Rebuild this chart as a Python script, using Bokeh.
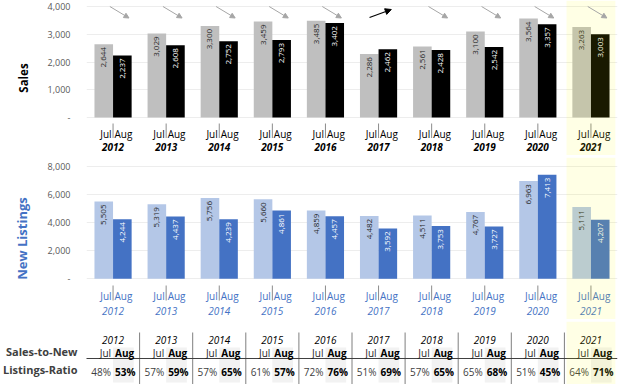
import numpy as np
from bokeh.plotting import figure
from bokeh.models import Range1d, FixedTicker, NumeralTickFormatter, Arrow, NormalHead, ColumnDataSource
from bokeh.layouts import column
from bokeh.core.properties import value
from bokeh.core.validation import silence
from bokeh.core.validation.warnings import MISSING_RENDERERS
from bokeh.embed import file_html
from bokeh.resources import INLINE

silence(MISSING_RENDERERS, True)

# ---------------- data ----------------
years = ["2012", "2013", "2014", "2015", "2016", "2017", "2018", "2019", "2020", "2021"]
months = ["Jul", "Aug"]
sales_jul = [2644, 3029, 3300, 3459, 3485, 2286, 2561, 3100, 3564, 3263]
sales_aug = [2237, 2608, 2752, 2793, 3402, 2462, 2428, 2542, 3357, 3003]
listings_jul = [5505, 5319, 5756, 5660, 4859, 4482, 4511, 4767, 6963, 5111]
listings_aug = [4244, 4437, 4239, 4861, 4457, 3592, 3753, 3727, 7413, 4207]
ratio_jul = [48, 57, 57, 61, 72, 51, 57, 65, 51, 64]
ratio_aug = [53, 59, 65, 57, 76, 69, 65, 68, 45, 71]
ratio_title = ["Sales-to-New", "Listings-Ratio"]
highlight_year = "2021"

# ---------------- layout constants ----------------
FONT = value("Open Sans")
W = 620
FL, FR = 77, 3
n = len(years)
PPX = (W - FL - FR) / n
xc = np.arange(n) + 0.5
BW = 0.35
HL = years.index(highlight_year)
HL_W = 0.92
YEL, YEL_A = "#FFFF00", 0.1
BLUE = "#4472C4"


def base_fig(h, y_range):
    p = figure(width=W, height=h, x_range=Range1d(0, n), y_range=y_range,
               x_axis_location=None, toolbar_location=None, output_backend="svg",
               min_border_left=FL, min_border_right=FR, min_border_top=0, min_border_bottom=0,
               outline_line_color=None, background_fill_color="white", border_fill_color="white")
    p.xgrid.visible = False
    return p


def bar_chart(h, top_px, zero_px, vmax, step, jul, aug, c_jul, c_aug, lc_jul, lc_aug,
              title, title_col, title_size, month_px, bar_px, year_px, month_col, year_col, year_style):
    ppu = (zero_px - top_px) / vmax
    y0 = -(h - zero_px) / ppu
    y1 = vmax + top_px / ppu

    def v(px):
        return (zero_px - px) / ppu

    p = base_fig(h, Range1d(y0, y1))
    ticks = list(range(0, vmax + 1, step))
    ax = p.yaxis[0]
    ax.ticker = FixedTicker(ticks=ticks)
    ax.formatter = NumeralTickFormatter(format="0,0")
    ax.major_label_overrides = {0: "-"}
    ax.axis_line_color = None
    ax.major_tick_line_color = None
    ax.minor_tick_line_color = None
    ax.major_label_standoff = 10
    ax.major_label_text_font = "Open Sans"
    ax.major_label_text_font_size = "9px"
    ax.major_label_text_color = "#595959"
    ax.axis_label = title
    ax.axis_label_text_font = "Open Sans"
    ax.axis_label_text_font_style = "bold"
    ax.axis_label_text_font_size = title_size
    ax.axis_label_text_color = title_col
    ax.axis_label_standoff = 14
    p.ygrid.ticker = FixedTicker(ticks=ticks)
    p.ygrid.grid_line_color = "#EDEDED"

    src = ColumnDataSource(dict(
        xj=xc - BW / 2, xa=xc + BW / 2, jul=jul, aug=aug,
        tj=[f"{a:,}" for a in jul], ta=[f"{a:,}" for a in aug]))
    p.vbar(x="xj", top="jul", width=BW, bottom=0, source=src, fill_color=c_jul, line_color=None)
    p.vbar(x="xa", top="aug", width=BW, bottom=0, source=src, fill_color=c_aug, line_color=None)
    p.text(x="xj", y="jul", text="tj", source=src, angle=np.pi / 2, text_align="right",
           text_baseline="middle", y_offset=3, text_font=FONT, text_font_size="8px", text_color=lc_jul)
    p.text(x="xa", y="aug", text="ta", source=src, angle=np.pi / 2, text_align="right",
           text_baseline="middle", y_offset=3, text_font=FONT, text_font_size="8px", text_color=lc_aug)

    # Jul | Aug captions and year captions
    p.text(x=xc, y=[v(month_px)] * n, text=[months[0]] * n, x_offset=-1.5, text_align="right",
           text_baseline="middle", text_font=FONT, text_font_size="10px", text_color=month_col)
    p.text(x=xc, y=[v(month_px)] * n, text=[months[1]] * n, x_offset=1.5, text_align="left",
           text_baseline="middle", text_font=FONT, text_font_size="10px", text_color=month_col)
    p.segment(x0=xc, x1=xc, y0=[v(bar_px[0])] * n, y1=[v(bar_px[1])] * n, line_color="#8C8C8C", line_width=1)
    p.text(x=xc, y=[v(year_px)] * n, text=years, text_align="center", text_baseline="middle",
           text_font=FONT, text_font_size="10px", text_font_style=year_style, text_color=year_col)
    return p, v, (y0, y1)


# ---------------- Sales ----------------
sales, vs, sr = bar_chart(155, 6.0, 117.0, 4000, 1000, sales_jul, sales_aug, "#BFBFBF", "#000000",
                          "#262626", "#FFFFFF", "Sales", "#000000", "11.5px",
                          133.0, (123.0, 137.5), 146.0, "#000000", "#000000", "bold italic")

gray_arrow = "#A6A6A6"
down = [i for i in range(n) if sales_aug[i] < sales_jul[i]]
up = [i for i in range(n) if sales_aug[i] >= sales_jul[i]]
if down:
    src_d = ColumnDataSource(dict(x0=xc[down] - 0.06, y0=[vs(6.0)] * len(down),
                                  x1=xc[down] + 0.30, y1=[vs(17.5)] * len(down)))
    sales.add_layout(Arrow(end=NormalHead(size=5, fill_color=gray_arrow, line_color=gray_arrow),
                           x_start="x0", y_start="y0", x_end="x1", y_end="y1", source=src_d,
                           line_color=gray_arrow, line_width=1))
if up:
    src_u = ColumnDataSource(dict(x0=xc[up] - 0.17, y0=[vs(17.0)] * len(up),
                                  x1=xc[up] + 0.24, y1=[vs(9.0)] * len(up)))
    sales.add_layout(Arrow(end=NormalHead(size=6, fill_color="#000000", line_color="#000000"),
                           x_start="x0", y_start="y0", x_end="x1", y_end="y1", source=src_u,
                           line_color="#000000", line_width=1.2))
sales.vbar(x=[xc[HL]], width=HL_W, bottom=sr[0], top=sr[1], fill_color=YEL, fill_alpha=YEL_A, line_color=None)

# ---------------- New listings ----------------
listings, vl, lr = bar_chart(162, 9.0, 121.3, 8000, 2000, listings_jul, listings_aug, "#B4C7E7", BLUE,
                             "#262626", "#FFFFFF", "New Listings", BLUE, "13px",
                             138.0, (128.0, 143.0), 153.0, BLUE, BLUE, "italic")
listings.vbar(x=[xc[HL]], width=HL_W, bottom=lr[0], top=lr[1], fill_color=YEL, fill_alpha=YEL_A, line_color=None)


# ---------------- separators ----------------
def separator():
    s = figure(width=W, height=2, x_range=Range1d(0, 1), y_range=Range1d(0, 1),
               x_axis_location=None, y_axis_location=None, toolbar_location=None,
               output_backend="svg", min_border=0, outline_line_color=None,
               background_fill_color="#A6A6A6", border_fill_color="#A6A6A6")
    s.grid.visible = False
    return s


# ---------------- ratio table ----------------
TH = 63
table = base_fig(TH, Range1d(TH, 0))
table.ygrid.visible = False
tax = table.yaxis[0]
tax.ticker = FixedTicker(ticks=[30, 48])
tax.major_label_overrides = {30: ratio_title[0], 48: ratio_title[1]}
tax.axis_line_color = None
tax.major_tick_line_color = None
tax.minor_tick_line_color = None
tax.major_label_standoff = 3
tax.major_label_text_font = "Open Sans"
tax.major_label_text_font_style = "bold"
tax.major_label_text_font_size = "11px"
tax.major_label_text_color = "#404040"

table.quad(left=xc, right=xc + 0.39, top=[26] * n, bottom=[61] * n, fill_color="#F2F2F2", line_color=None)
bounds = np.arange(1, n)
table.segment(x0=bounds, x1=bounds, y0=[11] * len(bounds), y1=[TH] * len(bounds), line_color="#7F7F7F", line_width=1)
table.segment(x0=[-0.05], x1=[n], y0=[37], y1=[37], line_color="#404040", line_width=1)
table.text(x=xc, y=[18] * n, text=years, text_align="center", text_baseline="middle",
           text_font=FONT, text_font_size="10px", text_font_style="italic", text_color="#000000")
table.text(x=xc, y=[31] * n, text=[months[0]] * n, x_offset=-2, text_align="right", text_baseline="middle",
           text_font=FONT, text_font_size="10px", text_color="#262626")
table.text(x=xc, y=[31] * n, text=[months[1]] * n, x_offset=2, text_align="left", text_baseline="middle",
           text_font=FONT, text_font_size="10px", text_font_style="bold", text_color="#000000")
table.text(x=xc, y=[50.5] * n, text=[f"{r}%" for r in ratio_jul], x_offset=-2, text_align="right",
           text_baseline="middle", text_font=FONT, text_font_size="10px", text_color="#404040")
table.text(x=xc, y=[50.5] * n, text=[f"{r}%" for r in ratio_aug], x_offset=2, text_align="left",
           text_baseline="middle", text_font=FONT, text_font_size="10px", text_font_style="bold",
           text_color="#000000")
table.vbar(x=[xc[HL]], width=HL_W, bottom=TH, top=0, fill_color=YEL, fill_alpha=YEL_A, line_color=None)

layout = column(sales, separator(), listings, separator(), table, spacing=0)
open("out.html", "w").write(file_html(layout, INLINE))
